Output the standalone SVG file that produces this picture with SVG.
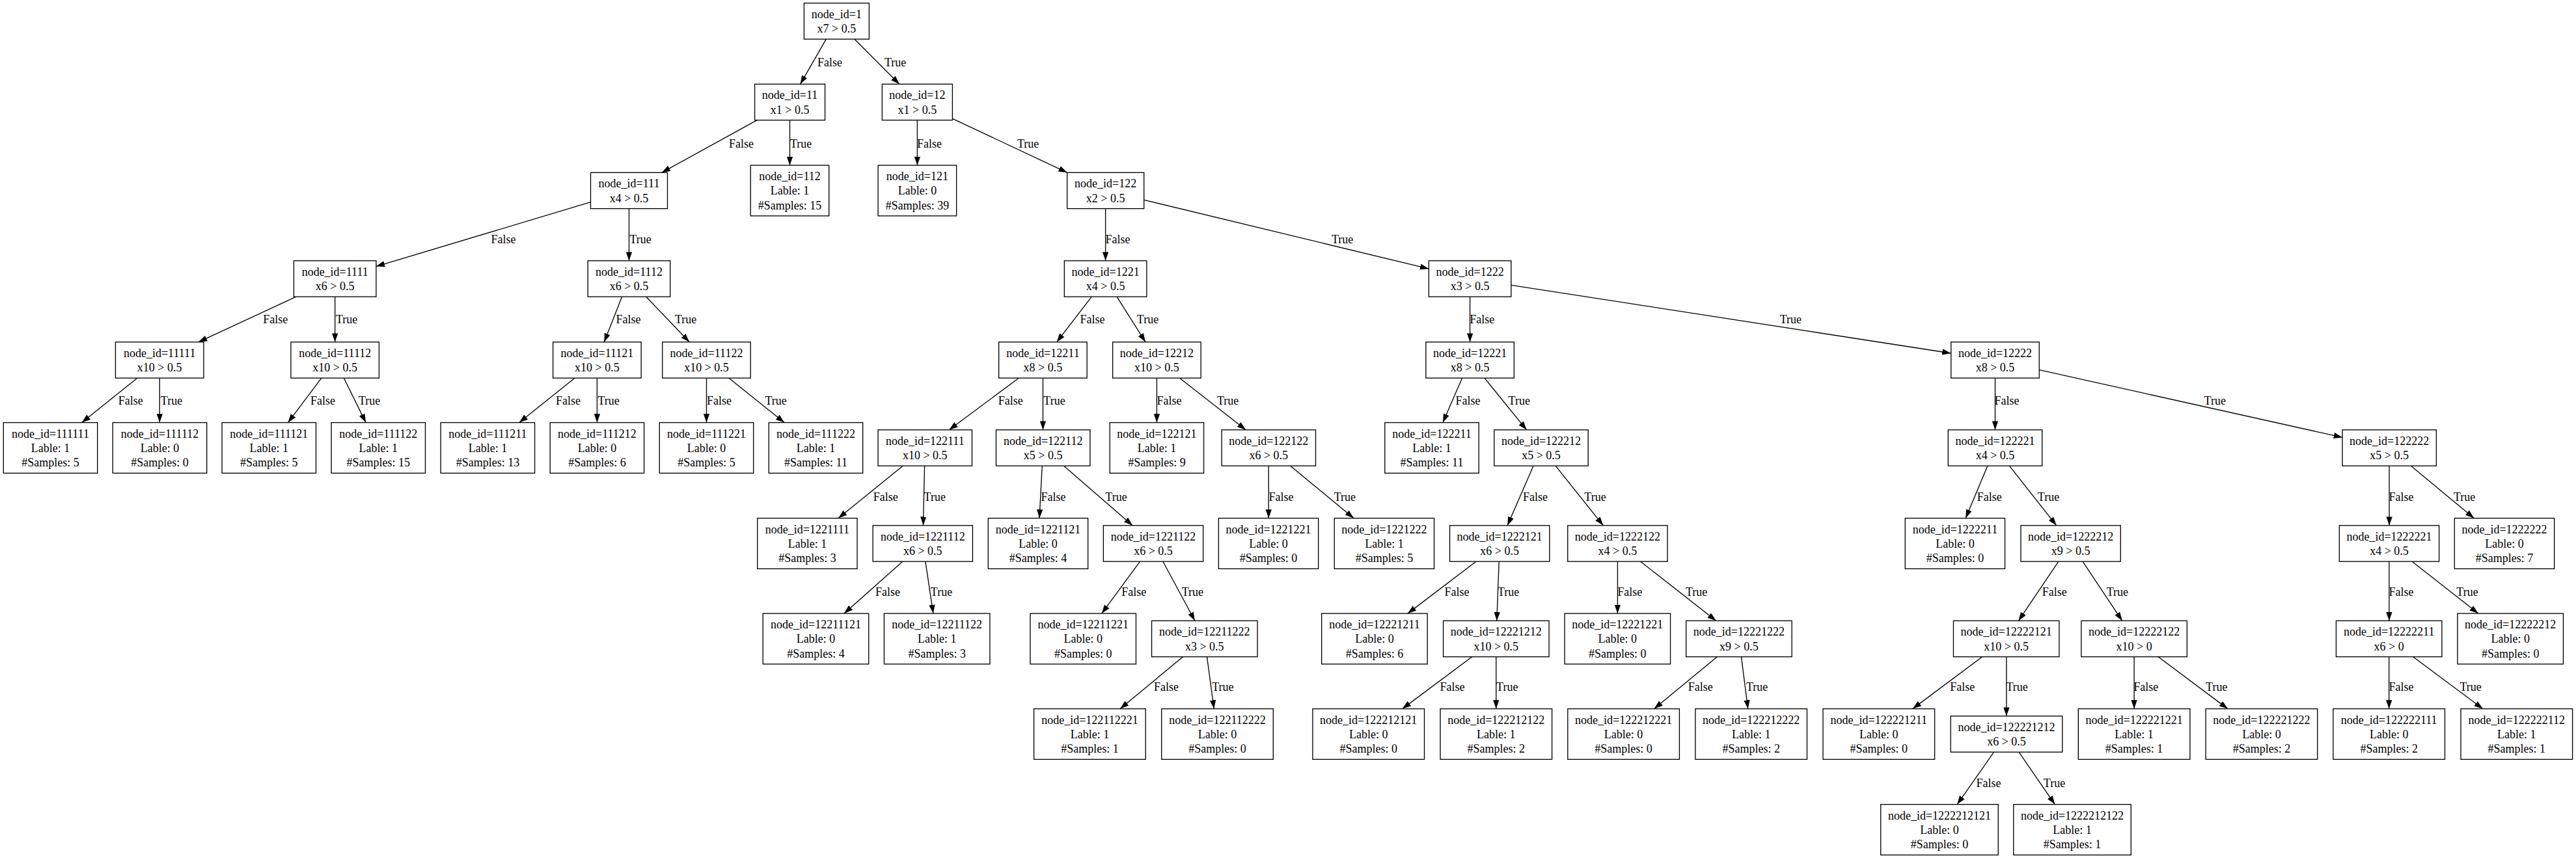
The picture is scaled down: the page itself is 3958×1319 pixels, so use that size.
<svg xmlns="http://www.w3.org/2000/svg" width="3958" height="1319" viewBox="0 0 3958 1319">
<style>
text{font-family:"Liberation Serif","Times New Roman",serif;font-size:18px;fill:#000}
.node rect{fill:#fff;stroke:#000;stroke-width:1.33}
.node text{text-anchor:middle}
.edge line{stroke:#000;stroke-width:1.33;marker-end:url(#ah)}
.edge text{text-anchor:start}
</style>
<defs>
<marker id="ah" markerUnits="userSpaceOnUse" markerWidth="14" markerHeight="10" refX="13.33" refY="4.67" orient="auto"><path d="M0,0 L13.33,4.67 L0,9.33 z" fill="#000"/></marker>
</defs>
<rect width="3958" height="1319" fill="#fff"/>
<g id="connectors">
<g class="edge" id="e1-11"><line x1="1269.4" y1="60.2" x2="1229.6" y2="129.3"/><text x="1256" y="101.9">False</text></g>
<g class="edge" id="e1-12"><line x1="1313" y1="60.2" x2="1381.8" y2="129.3"/><text x="1359" y="101.9">True</text></g>
<g class="edge" id="e11-111"><line x1="1163.3" y1="184.7" x2="1016.8" y2="265.3"/><text x="1120" y="226.5">False</text></g>
<g class="edge" id="e11-112"><line x1="1213.5" y1="184.7" x2="1213.5" y2="254.1"/><text x="1214" y="226.5">True</text></g>
<g class="edge" id="e12-121"><line x1="1409.4" y1="184.7" x2="1409.4" y2="254.1"/><text x="1409" y="226.5">False</text></g>
<g class="edge" id="e12-122"><line x1="1463.4" y1="182.4" x2="1639.8" y2="265.3"/><text x="1563" y="226.5">True</text></g>
<g class="edge" id="e111-1111"><line x1="907.5" y1="310.7" x2="577.9" y2="409.6"/><text x="754.5" y="373.9">False</text></g>
<g class="edge" id="e111-1112"><line x1="966.5" y1="320.7" x2="966.5" y2="400.8"/><text x="967.5" y="373.9">True</text></g>
<g class="edge" id="e122-1221"><line x1="1698.6" y1="320.7" x2="1698.6" y2="400.8"/><text x="1698.5" y="373.9">False</text></g>
<g class="edge" id="e122-1222"><line x1="1757.7" y1="307.3" x2="2195.2" y2="413.2"/><text x="2046" y="373.9">True</text></g>
<g class="edge" id="e1111-11111"><line x1="455" y1="456.2" x2="304.9" y2="525.8"/><text x="404.3" y="497.2">False</text></g>
<g class="edge" id="e1111-11112"><line x1="514.7" y1="456.2" x2="514.7" y2="525.8"/><text x="515.9" y="497.2">True</text></g>
<g class="edge" id="e1112-11121"><line x1="955.6" y1="456.2" x2="928.3" y2="525.8"/><text x="946.4" y="497.2">False</text></g>
<g class="edge" id="e1112-11122"><line x1="992.8" y1="456.2" x2="1059.2" y2="525.8"/><text x="1037" y="497.2">True</text></g>
<g class="edge" id="e1221-12211"><line x1="1677.3" y1="456.2" x2="1623.7" y2="525.8"/><text x="1659.4" y="497.2">False</text></g>
<g class="edge" id="e1221-12212"><line x1="1716" y1="456.2" x2="1760" y2="525.8"/><text x="1746.8" y="497.2">True</text></g>
<g class="edge" id="e1222-12221"><line x1="2258.6" y1="456.2" x2="2258.6" y2="525.8"/><text x="2258.3" y="497.2">False</text></g>
<g class="edge" id="e1222-12222"><line x1="2322" y1="438.3" x2="2997.5" y2="543"/><text x="2734.7" y="497.2">True</text></g>
<g class="edge" id="e11111-111111"><line x1="210.8" y1="581.2" x2="125.8" y2="649.6"/><text x="181.8" y="621.9">False</text></g>
<g class="edge" id="e11111-111112"><line x1="245.3" y1="581.2" x2="245.3" y2="649.6"/><text x="246.8" y="621.9">True</text></g>
<g class="edge" id="e11112-111121"><line x1="493.9" y1="581.2" x2="442.5" y2="649.6"/><text x="477" y="621.9">False</text></g>
<g class="edge" id="e11112-111122"><line x1="528.4" y1="581.2" x2="562.1" y2="649.6"/><text x="551" y="621.9">True</text></g>
<g class="edge" id="e11121-111211"><line x1="883" y1="581.2" x2="797.8" y2="649.6"/><text x="854" y="621.9">False</text></g>
<g class="edge" id="e11121-111212"><line x1="917.4" y1="581.2" x2="917.4" y2="649.6"/><text x="918.4" y="621.9">True</text></g>
<g class="edge" id="e11122-111221"><line x1="1085.5" y1="581.2" x2="1085.5" y2="649.6"/><text x="1086.1" y="621.9">False</text></g>
<g class="edge" id="e11122-111222"><line x1="1119.9" y1="581.2" x2="1205.1" y2="649.6"/><text x="1175.4" y="621.9">True</text></g>
<g class="edge" id="e12211-122111"><line x1="1565.3" y1="581.2" x2="1458.4" y2="660.8"/><text x="1533.8" y="621.9">False</text></g>
<g class="edge" id="e12211-122112"><line x1="1602.5" y1="581.2" x2="1602.5" y2="660.8"/><text x="1603.3" y="621.9">True</text></g>
<g class="edge" id="e12212-122121"><line x1="1777.4" y1="581.2" x2="1777.4" y2="649.6"/><text x="1777.4" y="621.9">False</text></g>
<g class="edge" id="e12212-122122"><line x1="1812.6" y1="581.2" x2="1914.1" y2="660.8"/><text x="1869.9" y="621.9">True</text></g>
<g class="edge" id="e12221-122211"><line x1="2246.6" y1="581.2" x2="2216.9" y2="649.6"/><text x="2236.6" y="621.9">False</text></g>
<g class="edge" id="e12221-122212"><line x1="2281" y1="581.2" x2="2345.6" y2="660.8"/><text x="2317.6" y="621.9">True</text></g>
<g class="edge" id="e12222-122221"><line x1="3065.5" y1="581.2" x2="3065.5" y2="660.8"/><text x="3064.5" y="621.9">False</text></g>
<g class="edge" id="e12222-122222"><line x1="3133.5" y1="568.7" x2="3599" y2="672.4"/><text x="3386.6" y="621.9">True</text></g>
<g class="edge" id="e122111-1221111"><line x1="1387.2" y1="716.2" x2="1288.2" y2="796.6"/><text x="1341.8" y="769.5">False</text></g>
<g class="edge" id="e122111-1221112"><line x1="1420.6" y1="716.2" x2="1418.5" y2="807.8"/><text x="1419.6" y="769.5">True</text></g>
<g class="edge" id="e122112-1221121"><line x1="1601.3" y1="716.2" x2="1597" y2="796.6"/><text x="1599.5" y="769.5">False</text></g>
<g class="edge" id="e122112-1221122"><line x1="1634.6" y1="716.2" x2="1740.1" y2="807.8"/><text x="1698.3" y="769.5">True</text></g>
<g class="edge" id="e122122-1221221"><line x1="1949.2" y1="716.2" x2="1949.2" y2="796.6"/><text x="1949.6" y="769.5">False</text></g>
<g class="edge" id="e122122-1221222"><line x1="1982.7" y1="716.2" x2="2079.9" y2="796.6"/><text x="2049.7" y="769.5">True</text></g>
<g class="edge" id="e122212-1222121"><line x1="2356" y1="716.2" x2="2316.2" y2="807.8"/><text x="2339.9" y="769.5">False</text></g>
<g class="edge" id="e122212-1222122"><line x1="2390.1" y1="716.2" x2="2463.3" y2="807.8"/><text x="2434.3" y="769.5">True</text></g>
<g class="edge" id="e122221-1222211"><line x1="3053.9" y1="716.2" x2="3020.2" y2="796.6"/><text x="3037.7" y="769.5">False</text></g>
<g class="edge" id="e122221-1222212"><line x1="3087.4" y1="716.2" x2="3159.7" y2="807.8"/><text x="3130.8" y="769.5">True</text></g>
<g class="edge" id="e122222-1222221"><line x1="3671.1" y1="716.2" x2="3671.1" y2="807.8"/><text x="3670.4" y="769.5">False</text></g>
<g class="edge" id="e122222-1222222"><line x1="3704.5" y1="716.2" x2="3801.2" y2="796.6"/><text x="3769.9" y="769.5">True</text></g>
<g class="edge" id="e1221112-12211121"><line x1="1386.8" y1="863.2" x2="1297.1" y2="943.1"/><text x="1345" y="915.5">False</text></g>
<g class="edge" id="e1221112-12211122"><line x1="1421.9" y1="863.2" x2="1433.9" y2="943.1"/><text x="1429.8" y="915.5">True</text></g>
<g class="edge" id="e1221122-12211221"><line x1="1751.6" y1="863.2" x2="1692.8" y2="943.1"/><text x="1723.2" y="915.5">False</text></g>
<g class="edge" id="e1221122-12211222"><line x1="1786.9" y1="863.2" x2="1835.9" y2="954.3"/><text x="1815.7" y="915.5">True</text></g>
<g class="edge" id="e1222121-12221211"><line x1="2267.9" y1="863.2" x2="2162.9" y2="943.1"/><text x="2219.4" y="915.5">False</text></g>
<g class="edge" id="e1222121-12221212"><line x1="2303.2" y1="863.2" x2="2299.8" y2="954.3"/><text x="2301" y="915.5">True</text></g>
<g class="edge" id="e1222122-12221221"><line x1="2485.4" y1="863.2" x2="2485.4" y2="943.1"/><text x="2485.3" y="915.5">False</text></g>
<g class="edge" id="e1222122-12221222"><line x1="2520.6" y1="863.2" x2="2636.7" y2="954.3"/><text x="2589.9" y="915.5">True</text></g>
<g class="edge" id="e1222212-12222121"><line x1="3162.9" y1="863.2" x2="3101.4" y2="954.3"/><text x="3137.8" y="915.5">False</text></g>
<g class="edge" id="e1222212-12222122"><line x1="3200" y1="863.2" x2="3260.7" y2="954.3"/><text x="3236.7" y="915.5">True</text></g>
<g class="edge" id="e1222221-12222211"><line x1="3670.9" y1="863.2" x2="3670.9" y2="954.3"/><text x="3670.4" y="915.5">False</text></g>
<g class="edge" id="e1222221-12222212"><line x1="3706.2" y1="863.2" x2="3807.8" y2="943.1"/><text x="3774.3" y="915.5">True</text></g>
<g class="edge" id="e12211222-122112221"><line x1="1817.5" y1="1009.7" x2="1721.2" y2="1089.6"/><text x="1773" y="1062.2">False</text></g>
<g class="edge" id="e12211222-122112222"><line x1="1854.5" y1="1009.7" x2="1865.3" y2="1089.6"/><text x="1862.2" y="1062.2">True</text></g>
<g class="edge" id="e12221212-122212121"><line x1="2261.8" y1="1009.7" x2="2154.7" y2="1089.6"/><text x="2212.4" y="1062.2">False</text></g>
<g class="edge" id="e12221212-122212122"><line x1="2298.8" y1="1009.7" x2="2298.8" y2="1089.6"/><text x="2299.1" y="1062.2">True</text></g>
<g class="edge" id="e12221222-122212221"><line x1="2638.4" y1="1009.7" x2="2541.7" y2="1089.6"/><text x="2593.8" y="1062.2">False</text></g>
<g class="edge" id="e12221222-122212222"><line x1="2675.5" y1="1009.7" x2="2685.7" y2="1089.6"/><text x="2683" y="1062.2">True</text></g>
<g class="edge" id="e12222121-122221211"><line x1="3045.7" y1="1009.7" x2="2938.8" y2="1089.6"/><text x="2996.3" y="1062.2">False</text></g>
<g class="edge" id="e12222121-122221212"><line x1="3082.9" y1="1009.7" x2="3082.9" y2="1100.8"/><text x="3082.4" y="1062.2">True</text></g>
<g class="edge" id="e12222122-122221221"><line x1="3279.1" y1="1009.7" x2="3279.1" y2="1089.6"/><text x="3278.2" y="1062.2">False</text></g>
<g class="edge" id="e12222122-122221222"><line x1="3316.1" y1="1009.7" x2="3422.9" y2="1089.6"/><text x="3389.1" y="1062.2">True</text></g>
<g class="edge" id="e12222211-122222111"><line x1="3670.7" y1="1009.7" x2="3670.7" y2="1089.6"/><text x="3670.4" y="1062.2">False</text></g>
<g class="edge" id="e12222211-122222112"><line x1="3707.7" y1="1009.7" x2="3814.8" y2="1089.6"/><text x="3779.4" y="1062.2">True</text></g>
<g class="edge" id="e122221212-1222212121"><line x1="3063.6" y1="1156.2" x2="3007.2" y2="1236.6"/><text x="3036.4" y="1209.5">False</text></g>
<g class="edge" id="e122221212-1222212122"><line x1="3102" y1="1156.2" x2="3157.3" y2="1236.6"/><text x="3139.8" y="1209.5">True</text></g>
</g>
<g id="nodes">
<g class="node" id="n1"><rect x="1235.4" y="4.82" width="100" height="55.36"/><text x="1285.4" y="27.7">node_id=1</text><text x="1285.4" y="50.1">x7 &gt; 0.5</text></g>
<g class="node" id="n11"><rect x="1159.6" y="129.32" width="108" height="55.36"/><text x="1213.6" y="152.2">node_id=11</text><text x="1213.6" y="174.6">x1 &gt; 0.5</text></g>
<g class="node" id="n12"><rect x="1355.4" y="129.32" width="108" height="55.36"/><text x="1409.4" y="152.2">node_id=12</text><text x="1409.4" y="174.6">x1 &gt; 0.5</text></g>
<g class="node" id="n111"><rect x="907.5" y="265.32" width="118" height="55.36"/><text x="966.5" y="288.2">node_id=111</text><text x="966.5" y="310.6">x4 &gt; 0.5</text></g>
<g class="node" id="n112"><rect x="1153.25" y="254.12" width="120.5" height="77.76"/><text x="1213.5" y="277">node_id=112</text><text x="1213.5" y="299.4">Lable: 1</text><text x="1213.5" y="321.8">#Samples: 15</text></g>
<g class="node" id="n121"><rect x="1349.15" y="254.12" width="120.5" height="77.76"/><text x="1409.4" y="277">node_id=121</text><text x="1409.4" y="299.4">Lable: 0</text><text x="1409.4" y="321.8">#Samples: 39</text></g>
<g class="node" id="n122"><rect x="1639.7" y="265.32" width="118" height="55.36"/><text x="1698.7" y="288.2">node_id=122</text><text x="1698.7" y="310.6">x2 &gt; 0.5</text></g>
<g class="node" id="n1111"><rect x="451.45" y="400.82" width="126.5" height="55.36"/><text x="514.7" y="423.7">node_id=1111</text><text x="514.7" y="446.1">x6 &gt; 0.5</text></g>
<g class="node" id="n1112"><rect x="903.25" y="400.82" width="126.5" height="55.36"/><text x="966.5" y="423.7">node_id=1112</text><text x="966.5" y="446.1">x6 &gt; 0.5</text></g>
<g class="node" id="n1221"><rect x="1635.35" y="400.82" width="126.5" height="55.36"/><text x="1698.6" y="423.7">node_id=1221</text><text x="1698.6" y="446.1">x4 &gt; 0.5</text></g>
<g class="node" id="n1222"><rect x="2195.35" y="400.82" width="126.5" height="55.36"/><text x="2258.6" y="423.7">node_id=1222</text><text x="2258.6" y="446.1">x3 &gt; 0.5</text></g>
<g class="node" id="n11111"><rect x="177.45" y="525.82" width="135.5" height="55.36"/><text x="245.2" y="548.7">node_id=11111</text><text x="245.2" y="571.1">x10 &gt; 0.5</text></g>
<g class="node" id="n11112"><rect x="446.95" y="525.82" width="135.5" height="55.36"/><text x="514.7" y="548.7">node_id=11112</text><text x="514.7" y="571.1">x10 &gt; 0.5</text></g>
<g class="node" id="n11121"><rect x="849.65" y="525.82" width="135.5" height="55.36"/><text x="917.4" y="548.7">node_id=11121</text><text x="917.4" y="571.1">x10 &gt; 0.5</text></g>
<g class="node" id="n11122"><rect x="1017.75" y="525.82" width="135.5" height="55.36"/><text x="1085.5" y="548.7">node_id=11122</text><text x="1085.5" y="571.1">x10 &gt; 0.5</text></g>
<g class="node" id="n12211"><rect x="1534.65" y="525.82" width="135.5" height="55.36"/><text x="1602.4" y="548.7">node_id=12211</text><text x="1602.4" y="571.1">x8 &gt; 0.5</text></g>
<g class="node" id="n12212"><rect x="1709.65" y="525.82" width="135.5" height="55.36"/><text x="1777.4" y="548.7">node_id=12212</text><text x="1777.4" y="571.1">x10 &gt; 0.5</text></g>
<g class="node" id="n12221"><rect x="2190.85" y="525.82" width="135.5" height="55.36"/><text x="2258.6" y="548.7">node_id=12221</text><text x="2258.6" y="571.1">x8 &gt; 0.5</text></g>
<g class="node" id="n12222"><rect x="2997.75" y="525.82" width="135.5" height="55.36"/><text x="3065.5" y="548.7">node_id=12222</text><text x="3065.5" y="571.1">x8 &gt; 0.5</text></g>
<g class="node" id="n111111"><rect x="5.3" y="649.62" width="144.4" height="77.76"/><text x="77.5" y="672.5">node_id=111111</text><text x="77.5" y="694.9">Lable: 1</text><text x="77.5" y="717.3">#Samples: 5</text></g>
<g class="node" id="n111112"><rect x="173.3" y="649.62" width="144.4" height="77.76"/><text x="245.5" y="672.5">node_id=111112</text><text x="245.5" y="694.9">Lable: 0</text><text x="245.5" y="717.3">#Samples: 0</text></g>
<g class="node" id="n111121"><rect x="341.1" y="649.62" width="144.4" height="77.76"/><text x="413.3" y="672.5">node_id=111121</text><text x="413.3" y="694.9">Lable: 1</text><text x="413.3" y="717.3">#Samples: 5</text></g>
<g class="node" id="n111122"><rect x="509.1" y="649.62" width="144.4" height="77.76"/><text x="581.3" y="672.5">node_id=111122</text><text x="581.3" y="694.9">Lable: 1</text><text x="581.3" y="717.3">#Samples: 15</text></g>
<g class="node" id="n111211"><rect x="677.2" y="649.62" width="144.4" height="77.76"/><text x="749.4" y="672.5">node_id=111211</text><text x="749.4" y="694.9">Lable: 1</text><text x="749.4" y="717.3">#Samples: 13</text></g>
<g class="node" id="n111212"><rect x="845.2" y="649.62" width="144.4" height="77.76"/><text x="917.4" y="672.5">node_id=111212</text><text x="917.4" y="694.9">Lable: 0</text><text x="917.4" y="717.3">#Samples: 6</text></g>
<g class="node" id="n111221"><rect x="1013.3" y="649.62" width="144.4" height="77.76"/><text x="1085.5" y="672.5">node_id=111221</text><text x="1085.5" y="694.9">Lable: 0</text><text x="1085.5" y="717.3">#Samples: 5</text></g>
<g class="node" id="n111222"><rect x="1181.3" y="649.62" width="144.4" height="77.76"/><text x="1253.5" y="672.5">node_id=111222</text><text x="1253.5" y="694.9">Lable: 1</text><text x="1253.5" y="717.3">#Samples: 11</text></g>
<g class="node" id="n122111"><rect x="1349.1" y="660.82" width="144.4" height="55.36"/><text x="1421.3" y="683.7">node_id=122111</text><text x="1421.3" y="706.1">x10 &gt; 0.5</text></g>
<g class="node" id="n122112"><rect x="1530.5" y="660.82" width="144.4" height="55.36"/><text x="1602.7" y="683.7">node_id=122112</text><text x="1602.7" y="706.1">x5 &gt; 0.5</text></g>
<g class="node" id="n122121"><rect x="1705.2" y="649.62" width="144.4" height="77.76"/><text x="1777.4" y="672.5">node_id=122121</text><text x="1777.4" y="694.9">Lable: 1</text><text x="1777.4" y="717.3">#Samples: 9</text></g>
<g class="node" id="n122122"><rect x="1877.1" y="660.82" width="144.4" height="55.36"/><text x="1949.3" y="683.7">node_id=122122</text><text x="1949.3" y="706.1">x6 &gt; 0.5</text></g>
<g class="node" id="n122211"><rect x="2127.8" y="649.62" width="144.4" height="77.76"/><text x="2200" y="672.5">node_id=122211</text><text x="2200" y="694.9">Lable: 1</text><text x="2200" y="717.3">#Samples: 11</text></g>
<g class="node" id="n122212"><rect x="2295.8" y="660.82" width="144.4" height="55.36"/><text x="2368" y="683.7">node_id=122212</text><text x="2368" y="706.1">x5 &gt; 0.5</text></g>
<g class="node" id="n122221"><rect x="2993.3" y="660.82" width="144.4" height="55.36"/><text x="3065.5" y="683.7">node_id=122221</text><text x="3065.5" y="706.1">x4 &gt; 0.5</text></g>
<g class="node" id="n122222"><rect x="3599" y="660.82" width="144.4" height="55.36"/><text x="3671.2" y="683.7">node_id=122222</text><text x="3671.2" y="706.1">x5 &gt; 0.5</text></g>
<g class="node" id="n1221111"><rect x="1163.75" y="796.62" width="153.3" height="77.76"/><text x="1240.4" y="819.5">node_id=1221111</text><text x="1240.4" y="841.9">Lable: 1</text><text x="1240.4" y="864.3">#Samples: 3</text></g>
<g class="node" id="n1221112"><rect x="1341.15" y="807.82" width="153.3" height="55.36"/><text x="1417.8" y="830.7">node_id=1221112</text><text x="1417.8" y="853.1">x6 &gt; 0.5</text></g>
<g class="node" id="n1221121"><rect x="1518.35" y="796.62" width="153.3" height="77.76"/><text x="1595" y="819.5">node_id=1221121</text><text x="1595" y="841.9">Lable: 0</text><text x="1595" y="864.3">#Samples: 4</text></g>
<g class="node" id="n1221122"><rect x="1695.35" y="807.82" width="153.3" height="55.36"/><text x="1772" y="830.7">node_id=1221122</text><text x="1772" y="853.1">x6 &gt; 0.5</text></g>
<g class="node" id="n1221221"><rect x="1872.35" y="796.62" width="153.3" height="77.76"/><text x="1949" y="819.5">node_id=1221221</text><text x="1949" y="841.9">Lable: 0</text><text x="1949" y="864.3">#Samples: 0</text></g>
<g class="node" id="n1221222"><rect x="2050.25" y="796.62" width="153.3" height="77.76"/><text x="2126.9" y="819.5">node_id=1221222</text><text x="2126.9" y="841.9">Lable: 1</text><text x="2126.9" y="864.3">#Samples: 5</text></g>
<g class="node" id="n1222121"><rect x="2227.55" y="807.82" width="153.3" height="55.36"/><text x="2304.2" y="830.7">node_id=1222121</text><text x="2304.2" y="853.1">x6 &gt; 0.5</text></g>
<g class="node" id="n1222122"><rect x="2408.75" y="807.82" width="153.3" height="55.36"/><text x="2485.4" y="830.7">node_id=1222122</text><text x="2485.4" y="853.1">x4 &gt; 0.5</text></g>
<g class="node" id="n1222211"><rect x="2927.25" y="796.62" width="153.3" height="77.76"/><text x="3003.9" y="819.5">node_id=1222211</text><text x="3003.9" y="841.9">Lable: 0</text><text x="3003.9" y="864.3">#Samples: 0</text></g>
<g class="node" id="n1222212"><rect x="3104.95" y="807.82" width="153.3" height="55.36"/><text x="3181.6" y="830.7">node_id=1222212</text><text x="3181.6" y="853.1">x9 &gt; 0.5</text></g>
<g class="node" id="n1222221"><rect x="3594.35" y="807.82" width="153.3" height="55.36"/><text x="3671" y="830.7">node_id=1222221</text><text x="3671" y="853.1">x4 &gt; 0.5</text></g>
<g class="node" id="n1222222"><rect x="3771.35" y="796.62" width="153.3" height="77.76"/><text x="3848" y="819.5">node_id=1222222</text><text x="3848" y="841.9">Lable: 0</text><text x="3848" y="864.3">#Samples: 7</text></g>
<g class="node" id="n12211121"><rect x="1172.25" y="943.12" width="162.5" height="77.76"/><text x="1253.5" y="966">node_id=12211121</text><text x="1253.5" y="988.4">Lable: 0</text><text x="1253.5" y="1010.8">#Samples: 4</text></g>
<g class="node" id="n12211122"><rect x="1358.45" y="943.12" width="162.5" height="77.76"/><text x="1439.7" y="966">node_id=12211122</text><text x="1439.7" y="988.4">Lable: 1</text><text x="1439.7" y="1010.8">#Samples: 3</text></g>
<g class="node" id="n12211221"><rect x="1582.95" y="943.12" width="162.5" height="77.76"/><text x="1664.2" y="966">node_id=12211221</text><text x="1664.2" y="988.4">Lable: 0</text><text x="1664.2" y="1010.8">#Samples: 0</text></g>
<g class="node" id="n12211222"><rect x="1769.55" y="954.32" width="162.5" height="55.36"/><text x="1850.8" y="977.2">node_id=12211222</text><text x="1850.8" y="999.6">x3 &gt; 0.5</text></g>
<g class="node" id="n12221211"><rect x="2030.65" y="943.12" width="162.5" height="77.76"/><text x="2111.9" y="966">node_id=12221211</text><text x="2111.9" y="988.4">Lable: 0</text><text x="2111.9" y="1010.8">#Samples: 6</text></g>
<g class="node" id="n12221212"><rect x="2217.55" y="954.32" width="162.5" height="55.36"/><text x="2298.8" y="977.2">node_id=12221212</text><text x="2298.8" y="999.6">x10 &gt; 0.5</text></g>
<g class="node" id="n12221221"><rect x="2404.05" y="943.12" width="162.5" height="77.76"/><text x="2485.3" y="966">node_id=12221221</text><text x="2485.3" y="988.4">Lable: 0</text><text x="2485.3" y="1010.8">#Samples: 0</text></g>
<g class="node" id="n12221222"><rect x="2590.65" y="954.32" width="162.5" height="55.36"/><text x="2671.9" y="977.2">node_id=12221222</text><text x="2671.9" y="999.6">x9 &gt; 0.5</text></g>
<g class="node" id="n12222121"><rect x="3001.45" y="954.32" width="162.5" height="55.36"/><text x="3082.7" y="977.2">node_id=12222121</text><text x="3082.7" y="999.6">x10 &gt; 0.5</text></g>
<g class="node" id="n12222122"><rect x="3197.85" y="954.32" width="162.5" height="55.36"/><text x="3279.1" y="977.2">node_id=12222122</text><text x="3279.1" y="999.6">x10 &gt; 0</text></g>
<g class="node" id="n12222211"><rect x="3589.45" y="954.32" width="162.5" height="55.36"/><text x="3670.7" y="977.2">node_id=12222211</text><text x="3670.7" y="999.6">x6 &gt; 0</text></g>
<g class="node" id="n12222212"><rect x="3775.95" y="943.12" width="162.5" height="77.76"/><text x="3857.2" y="966">node_id=12222212</text><text x="3857.2" y="988.4">Lable: 0</text><text x="3857.2" y="1010.8">#Samples: 0</text></g>
<g class="node" id="n122112221"><rect x="1588.6" y="1089.62" width="171.6" height="77.76"/><text x="1674.4" y="1112.5">node_id=122112221</text><text x="1674.4" y="1134.9">Lable: 1</text><text x="1674.4" y="1157.3">#Samples: 1</text></g>
<g class="node" id="n122112222"><rect x="1784.7" y="1089.62" width="171.6" height="77.76"/><text x="1870.5" y="1112.5">node_id=122112222</text><text x="1870.5" y="1134.9">Lable: 0</text><text x="1870.5" y="1157.3">#Samples: 0</text></g>
<g class="node" id="n122212121"><rect x="2016.9" y="1089.62" width="171.6" height="77.76"/><text x="2102.7" y="1112.5">node_id=122212121</text><text x="2102.7" y="1134.9">Lable: 0</text><text x="2102.7" y="1157.3">#Samples: 0</text></g>
<g class="node" id="n122212122"><rect x="2213" y="1089.62" width="171.6" height="77.76"/><text x="2298.8" y="1112.5">node_id=122212122</text><text x="2298.8" y="1134.9">Lable: 1</text><text x="2298.8" y="1157.3">#Samples: 2</text></g>
<g class="node" id="n122212221"><rect x="2408.8" y="1089.62" width="171.6" height="77.76"/><text x="2494.6" y="1112.5">node_id=122212221</text><text x="2494.6" y="1134.9">Lable: 0</text><text x="2494.6" y="1157.3">#Samples: 0</text></g>
<g class="node" id="n122212222"><rect x="2604.9" y="1089.62" width="171.6" height="77.76"/><text x="2690.7" y="1112.5">node_id=122212222</text><text x="2690.7" y="1134.9">Lable: 1</text><text x="2690.7" y="1157.3">#Samples: 2</text></g>
<g class="node" id="n122221211"><rect x="2801" y="1089.62" width="171.6" height="77.76"/><text x="2886.8" y="1112.5">node_id=122221211</text><text x="2886.8" y="1134.9">Lable: 0</text><text x="2886.8" y="1157.3">#Samples: 0</text></g>
<g class="node" id="n122221212"><rect x="2997.2" y="1100.82" width="171.6" height="55.36"/><text x="3083" y="1123.7">node_id=122221212</text><text x="3083" y="1146.1">x6 &gt; 0.5</text></g>
<g class="node" id="n122221221"><rect x="3193.3" y="1089.62" width="171.6" height="77.76"/><text x="3279.1" y="1112.5">node_id=122221221</text><text x="3279.1" y="1134.9">Lable: 1</text><text x="3279.1" y="1157.3">#Samples: 1</text></g>
<g class="node" id="n122221222"><rect x="3389.1" y="1089.62" width="171.6" height="77.76"/><text x="3474.9" y="1112.5">node_id=122221222</text><text x="3474.9" y="1134.9">Lable: 0</text><text x="3474.9" y="1157.3">#Samples: 2</text></g>
<g class="node" id="n122222111"><rect x="3584.9" y="1089.62" width="171.6" height="77.76"/><text x="3670.7" y="1112.5">node_id=122222111</text><text x="3670.7" y="1134.9">Lable: 0</text><text x="3670.7" y="1157.3">#Samples: 2</text></g>
<g class="node" id="n122222112"><rect x="3781" y="1089.62" width="171.6" height="77.76"/><text x="3866.8" y="1112.5">node_id=122222112</text><text x="3866.8" y="1134.9">Lable: 1</text><text x="3866.8" y="1157.3">#Samples: 1</text></g>
<g class="node" id="n1222212121"><rect x="2889.75" y="1236.62" width="180.5" height="77.76"/><text x="2980" y="1259.5">node_id=1222212121</text><text x="2980" y="1281.9">Lable: 0</text><text x="2980" y="1304.3">#Samples: 0</text></g>
<g class="node" id="n1222212122"><rect x="3093.75" y="1236.62" width="180.5" height="77.76"/><text x="3184" y="1259.5">node_id=1222212122</text><text x="3184" y="1281.9">Lable: 1</text><text x="3184" y="1304.3">#Samples: 1</text></g>
</g>
</svg>
